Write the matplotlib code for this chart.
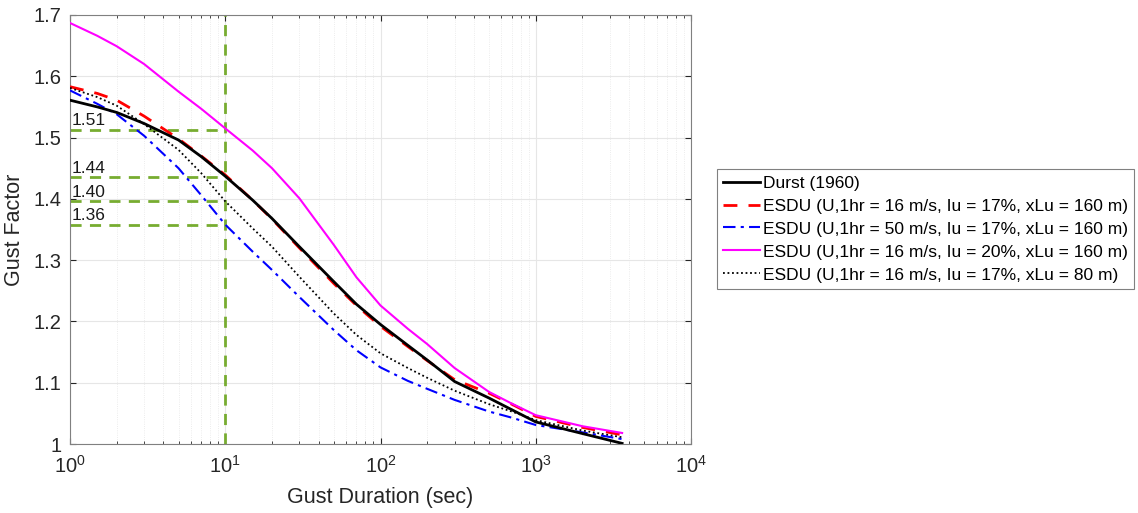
import matplotlib
matplotlib.use("Agg")
import matplotlib.pyplot as plt
from matplotlib.ticker import FixedLocator, LogLocator, NullFormatter

plt.rcParams['font.family'] = ['Liberation Sans', 'DejaVu Sans']

# Gust durations (s)
duration = [1, 1.5, 2, 3, 5, 7, 10, 15, 20, 30, 50, 70, 100, 150, 200, 300, 500, 700, 1000, 2000, 3600]

durst = [1.561, 1.550, 1.541, 1.523, 1.496, 1.469, 1.437, 1.398, 1.368, 1.322, 1.265, 1.228, 1.195,
         1.161, 1.137, 1.102, 1.075, 1.056, 1.036, 1.017, 1.001]
esdu_16_17_160 = [1.583, 1.572, 1.561, 1.535, 1.498, 1.470, 1.439, 1.398, 1.367, 1.320, 1.262, 1.226, 1.192,
                  1.159, 1.136, 1.105, 1.083, 1.065, 1.045, 1.027, 1.015]
esdu_50_17_160 = [1.577, 1.555, 1.538, 1.503, 1.450, 1.406, 1.358, 1.314, 1.284, 1.240, 1.186, 1.153, 1.125,
                  1.103, 1.090, 1.072, 1.053, 1.043, 1.031, 1.019, 1.008]
esdu_16_20_160 = [1.687, 1.666, 1.649, 1.620, 1.575, 1.547, 1.515, 1.479, 1.450, 1.401, 1.325, 1.272, 1.226,
                  1.188, 1.163, 1.124, 1.085, 1.066, 1.047, 1.029, 1.018]
esdu_16_17_80 = [1.581, 1.566, 1.552, 1.522, 1.480, 1.442, 1.396, 1.352, 1.322, 1.273, 1.213, 1.178, 1.148,
                 1.124, 1.108, 1.087, 1.065, 1.053, 1.039, 1.022, 1.011]

labels = ["Durst (1960)",
          "ESDU (U,1hr = 16 m/s, Iu = 17%, xLu = 160 m)",
          "ESDU (U,1hr = 50 m/s, Iu = 17%, xLu = 160 m)",
          "ESDU (U,1hr = 16 m/s, Iu = 20%, xLu = 160 m)",
          "ESDU (U,1hr = 16 m/s, Iu = 17%, xLu = 80 m)"]

ref_duration = 10
ref_levels = [1.513, 1.436, 1.396, 1.358]
ref_texts = ["1.51", "1.44", "1.40", "1.36"]

fig = plt.figure(figsize=(11.38, 5.13), dpi=100)
ax = fig.add_axes([70/1138, 1-444/513, (691-70)/1138, (444-15)/513])

green = '#77AC30'
ax.axvline(ref_duration, color=green, lw=2, ls=(0, (4, 3)), zorder=1)
for lev, txt in zip(ref_levels, ref_texts):
    ax.plot([1, ref_duration], [lev, lev], color=green, lw=2, ls=(0, (4, 3)), zorder=1)
    ax.text(1.03, lev + 0.002, txt, fontsize=12.5, color='#1a1a1a', va='bottom', ha='left', zorder=3)

ax.plot(duration, durst, color='black', lw=2, label=labels[0], zorder=4)
ax.plot(duration, esdu_16_17_160, color='red', lw=2, ls=(0, (5, 4)), label=labels[1], zorder=3)
ax.plot(duration, esdu_50_17_160, color='blue', lw=1.5, ls=(0, (6, 2.5, 1.5, 2.5)), label=labels[2], zorder=3)
ax.plot(duration, esdu_16_20_160, color='magenta', lw=1.5, label=labels[3], zorder=3)
ax.plot(duration, esdu_16_17_80, color='black', lw=1.3, ls=(0, (1, 1.5)), label=labels[4], zorder=3)

ax.set_xscale('log')
ax.set_xlim(1, 1e4)
ax.set_ylim(1.0, 1.7)
ax.set_yticks([1.0, 1.1, 1.2, 1.3, 1.4, 1.5, 1.6, 1.7])
ax.set_yticklabels(['1', '1.1', '1.2', '1.3', '1.4', '1.5', '1.6', '1.7'])
ax.xaxis.set_major_locator(FixedLocator([1, 10, 100, 1000, 10000]))
ax.xaxis.set_minor_locator(LogLocator(base=10, subs=range(2, 10), numticks=20))
ax.xaxis.set_minor_formatter(NullFormatter())

ax.grid(True, which='major', color='#e6e6e6', lw=0.8, ls='-')
ax.grid(True, which='minor', axis='x', color='#e6e6e6', lw=0.6, ls=':')
ax.set_axisbelow(True)
ax.tick_params(which='both', direction='in', top=True, right=True, colors='#262626',
               labelsize=14.5, length=4)
ax.tick_params(axis='x', which='major', pad=8)
ax.tick_params(axis='y', which='major', pad=6)
ax.tick_params(which='minor', length=2.5)
for s in ax.spines.values():
    s.set_color('#808080')
    s.set_linewidth(0.8)

ax.set_xlabel('Gust Duration (sec)', fontsize=15.5, color='#262626', labelpad=7)
ax.set_ylabel('Gust Factor', fontsize=15.5, color='#262626', labelpad=6)

leg = ax.legend(loc='center left', bbox_to_anchor=(717/1138, 1-229/513), bbox_transform=fig.transFigure,
                fontsize=12.5, frameon=True, fancybox=False, framealpha=1, edgecolor='#808080',
                handlelength=2.1, handletextpad=0.2, borderpad=0.35, labelspacing=0.45, borderaxespad=0)
leg.get_frame().set_linewidth(0.8)

fig.savefig('out.png', dpi=100)
